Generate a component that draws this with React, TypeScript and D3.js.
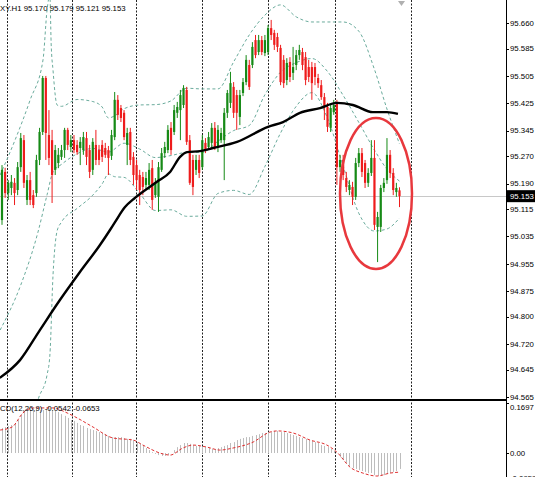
import React from 'react';
import * as d3 from 'd3';

const opens = [95.083,95.224,95.162,95.177,95.192,95.171,95.238,95.317,95.142,95.200,95.156,95.162,95.259,95.341,95.499,95.332,95.317,95.230,95.250,95.268,95.288,95.347,95.297,95.317,95.303,95.294,95.288,95.323,95.288,95.230,95.303,95.288,95.303,95.294,95.288,95.271,95.326,95.435,95.411,95.397,95.303,95.341,95.268,95.244,95.215,95.209,95.186,95.186,95.235,95.156,95.151,95.230,95.279,95.288,95.353,95.341,95.397,95.405,95.420,95.464,95.317,95.259,95.230,95.259,95.238,95.309,95.297,95.309,95.353,95.297,95.317,95.317,95.397,95.426,95.473,95.449,95.385,95.455,95.487,95.537,95.537,95.610,95.575,95.610,95.572,95.575,95.645,95.631,95.619,95.587,95.552,95.493,95.546,95.514,95.537,95.566,95.575,95.560,95.531,95.531,95.531,95.499,95.478,95.443,95.414,95.353,95.399,95.426,95.238,95.259,95.206,95.171,95.180,95.151,95.250,95.279,95.250,95.192,95.221,95.265,95.063,95.063,95.177,95.200,95.274,95.221,95.165,95.170];
const highs = [95.244,95.236,95.200,95.215,95.206,95.253,95.338,95.332,95.215,95.224,95.171,95.274,95.353,95.505,95.505,95.405,95.347,95.303,95.294,95.303,95.353,95.353,95.332,95.332,95.317,95.326,95.341,95.341,95.303,95.323,95.347,95.303,95.317,95.309,95.300,95.347,95.458,95.449,95.420,95.405,95.353,95.353,95.282,95.259,95.230,95.224,95.224,95.250,95.259,95.206,95.253,95.294,95.312,95.361,95.370,95.420,95.429,95.464,95.478,95.473,95.332,95.274,95.274,95.274,95.332,95.323,95.341,95.367,95.370,95.361,95.353,95.411,95.464,95.517,95.487,95.464,95.464,95.499,95.566,95.552,95.604,95.625,95.625,95.622,95.625,95.654,95.669,95.640,95.631,95.596,95.566,95.557,95.560,95.590,95.581,95.596,95.587,95.575,95.552,95.546,95.543,95.511,95.493,95.455,95.426,95.423,95.435,95.435,95.274,95.274,95.224,95.200,95.195,95.265,95.294,95.294,95.259,95.235,95.317,95.317,95.107,95.186,95.206,95.323,95.288,95.235,95.192,95.179];
const lows = [95.069,95.148,95.142,95.156,95.127,95.156,95.224,95.177,95.127,95.127,95.118,95.151,95.244,95.332,95.259,95.244,95.133,95.215,95.235,95.259,95.265,95.288,95.282,95.279,95.274,95.244,95.274,95.244,95.206,95.215,95.244,95.244,95.253,95.265,95.215,95.259,95.317,95.376,95.370,95.317,95.244,95.244,95.186,95.171,95.127,95.156,95.171,95.171,95.113,95.148,95.107,95.224,95.265,95.279,95.274,95.332,95.382,95.317,95.411,95.303,95.186,95.156,95.215,95.206,95.230,95.279,95.288,95.297,95.288,95.282,95.309,95.200,95.382,95.411,95.382,95.347,95.361,95.446,95.478,95.464,95.528,95.557,95.566,95.566,95.563,95.566,95.610,95.581,95.575,95.478,95.470,95.478,95.487,95.493,95.522,95.552,95.522,95.478,95.487,95.435,95.478,95.470,95.435,95.376,95.341,95.341,95.391,95.186,95.224,95.200,95.165,95.156,95.127,95.142,95.238,95.209,95.177,95.180,95.212,95.054,94.960,95.048,95.165,95.189,95.206,95.156,95.151,95.121];
const closes = [95.230,95.162,95.192,95.195,95.162,95.238,95.323,95.192,95.200,95.142,95.127,95.259,95.341,95.499,95.338,95.265,95.215,95.288,95.274,95.288,95.347,95.303,95.317,95.288,95.282,95.312,95.326,95.268,95.224,95.312,95.259,95.259,95.268,95.274,95.265,95.332,95.435,95.391,95.382,95.326,95.338,95.259,95.215,95.200,95.171,95.180,95.206,95.230,95.142,95.192,95.238,95.279,95.297,95.347,95.288,95.405,95.414,95.449,95.470,95.312,95.192,95.180,95.259,95.221,95.317,95.288,95.326,95.353,95.297,95.347,95.338,95.397,95.455,95.484,95.397,95.397,95.449,95.487,95.552,95.473,95.590,95.566,95.610,95.575,95.610,95.645,95.625,95.596,95.590,95.487,95.484,95.543,95.502,95.531,95.566,95.581,95.537,95.493,95.502,95.484,95.502,95.484,95.443,95.414,95.356,95.411,95.420,95.238,95.259,95.215,95.180,95.186,95.151,95.250,95.279,95.224,95.192,95.221,95.265,95.069,95.092,95.177,95.192,95.274,95.221,95.171,95.177,95.153];

const priceTicks = [95.660,95.585,95.505,95.425,95.345,95.270,95.190,95.115,95.035,94.955,94.875,94.800,94.720,94.645,94.565];
const macdTicks = [0.1697, 0.0, -0.0959];
const macdTickLabels = ['0.1697', '0.00', '-0.0959'];

const macdHist = [0.085,0.088,0.092,0.095,0.102,0.112,0.129,0.143,0.146,0.146,
0.149,0.149,0.146,0.146,0.150,0.150,0.146,0.143,0.139,0.132,
0.126,0.119,0.112,0.109,0.102,0.095,0.092,0.085,0.081,0.078,
0.075,0.071,0.068,0.064,0.058,0.054,0.054,0.054,0.054,0.051,
0.048,0.048,0.044,0.037,0.031,0.024,0.017,0.010,0.003,-0.003,
-0.007,-0.010,-0.010,-0.007,0.000,0.010,0.020,0.027,0.034,0.034,
0.031,0.027,0.024,0.024,0.020,0.020,0.017,0.014,0.014,0.017,
0.020,0.024,0.027,0.034,0.037,0.044,0.048,0.051,0.054,0.054,
0.058,0.061,0.064,0.068,0.068,0.071,0.071,0.075,0.075,0.071,
0.071,0.068,0.064,0.061,0.058,0.054,0.051,0.048,0.044,0.041,
0.037,0.034,0.027,0.024,0.020,0.014,0.007,0.000,-0.014,-0.024,
-0.034,-0.044,-0.051,-0.054,-0.058,-0.061,-0.064,-0.068,-0.068,-0.075,
-0.078,-0.078,-0.075,-0.071,-0.068,-0.064,-0.061,-0.054];

const signalPts: [number, number][] = [[-0.6,0.078],[3.2,0.088],[6.7,0.136],[9.9,0.153],[16.3,0.153],[20.8,0.136],[24,0.119],[29.1,0.088],[35.5,0.051],[41.9,0.044],[45,0.027],[51.4,-0.003],[53.7,-0.007],[57.8,0.017],[61,0.027],[65.5,0.020],[69.6,0.010],[73.8,0.017],[80.2,0.037],[85.6,0.071],[87.9,0.075],[93,0.068],[98.4,0.044],[103.8,0.027],[107,0.003],[111.2,-0.048],[115.3,-0.068],[119.8,-0.078],[124,-0.068],[126.8,-0.065]];

const maPts: [number, number][] = [[-0.7,94.621],[5.75,94.673],[12.1,94.761],[18.5,94.849],[24.9,94.931],[31.3,95.010],[34.5,95.054],[36.1,95.077],[39.3,95.121],[42.5,95.148],[49.5,95.195],[53.7,95.224],[56.9,95.268],[59.1,95.282],[63.3,95.285],[67.4,95.294],[75.1,95.312],[85,95.356],[89.8,95.370],[95.2,95.397],[101.6,95.411],[107,95.426],[112.1,95.420],[118.5,95.399],[123,95.399],[126.5,95.394]];

const bbUpper: [number, number][] = [[-0.6,95.215],[4.2,95.318],[9,95.435],[13.1,95.552],[14.4,95.698],[15.3,95.742],[15.7,95.601],[16.3,95.522],[17.6,95.420],[19,95.416],[24,95.436],[29,95.430],[32,95.414],[34,95.382],[36,95.388],[39,95.409],[44,95.420],[49,95.421],[54,95.432],[59,95.469],[64,95.467],[69,95.467],[74,95.546],[79,95.625],[84,95.683],[89,95.713],[94,95.678],[99,95.663],[104,95.663],[109,95.663],[114,95.636],[119,95.524],[123,95.408],[127,95.306]];
const bbMiddle: [number, number][] = [[-0.6,94.761],[6,94.893],[11.5,95.048],[14.4,95.157],[16.3,95.224],[19,95.246],[24,95.277],[29,95.293],[34,95.282],[39,95.308],[44,95.291],[49,95.266],[54,95.272],[59,95.281],[64,95.281],[69,95.314],[74,95.345],[79,95.360],[84,95.450],[89,95.516],[94,95.544],[99,95.556],[104,95.518],[109,95.448],[114,95.369],[119,95.288],[123,95.232],[127,95.197]];
const bbLower: [number, number][] = [[10,94.497],[11.5,94.556],[14.4,94.630],[15.3,94.688],[16.3,94.922],[17.6,95.051],[19,95.077],[24,95.117],[29,95.156],[32,95.189],[34,95.218],[36,95.210],[39,95.208],[44,95.161],[49,95.111],[54,95.113],[59,95.094],[64,95.095],[69,95.161],[74,95.170],[79,95.158],[84,95.240],[89,95.338],[94,95.416],[99,95.456],[104,95.381],[109,95.241],[114,95.103],[119,95.051],[123,95.057],[127,95.089]];

const gridIdx = [1.6, 22.4, 42.8, 63.9, 85, 106.4, 130.7];
const lastPrice = 95.153;
const titleText = 'XY.H1  95.170 95.179 95.121 95.153';
const macdTitle = 'CD(12,26,9) -0.0542 -0.0653';

const W = 535, H = 477;
const axisX = 506;
const FONT = 'Liberation Sans, Arial, sans-serif';

export default function App() {
  const x = d3.scaleLinear().domain([0, closes.length - 1]).range([2, 399.5]);
  const y = d3.scaleLinear().domain([94.565, 95.660]).range([397, 23]);
  const ym = d3.scaleLinear().domain([-0.0959, 0.1697]).range([481.3, 403]);

  const line = d3.line<[number, number]>().x(d => x(d[0])).y(d => y(d[1])).curve(d3.curveMonotoneX);
  const lineM = d3.line<[number, number]>().x(d => x(d[0])).y(d => ym(d[1])).curve(d3.curveMonotoneX);

  const green = '#168a16';
  const red = '#ee1c1c';
  const bandColor = '#6aab9c';

  return (
    <svg width={W} height={H} style={{ position: 'absolute', left: 0, top: 0, background: '#fff' }}>
      <defs>
        <clipPath id="mainClip"><rect x={0} y={0} width={axisX} height={399} /></clipPath>
        <clipPath id="macdClip"><rect x={0} y={402} width={axisX} height={H - 402} /></clipPath>
      </defs>
      <rect x={0} y={0} width={W} height={H} fill="#fff" />
      {gridIdx.map((g, i) => (
        <line key={'g' + i} x1={Math.round(x(g)) + 0.5} x2={Math.round(x(g)) + 0.5} y1={0} y2={H} stroke="#222" strokeWidth={1} strokeDasharray="2,1.5" />
      ))}
      <line x1={0} x2={axisX} y1={Math.round(y(lastPrice)) + 0.5} y2={Math.round(y(lastPrice)) + 0.5} stroke="#c8c8c8" strokeWidth={1} />
      <g clipPath="url(#mainClip)">
        {[bbUpper, bbMiddle, bbLower].map((b, i) => (
          <path key={'bb' + i} d={line(b) || ''} fill="none" stroke={bandColor} strokeWidth={1} strokeDasharray="3,2.5" />
        ))}
        {closes.map((c, i) => {
          const o = opens[i];
          const up = c >= o;
          const col = up ? green : red;
          const cx = x(i);
          const top = y(Math.max(o, c));
          const bot = y(Math.min(o, c));
          return (
            <g key={'c' + i}>
              <line x1={cx} x2={cx} y1={y(highs[i])} y2={y(lows[i])} stroke={col} strokeWidth={1} />
              <rect x={cx - 1.1} y={top} width={2.2} height={Math.max(1, bot - top)} fill={col} />
            </g>
          );
        })}
        <path d={line(maPts) || ''} fill="none" stroke="#000" strokeWidth={2.4} strokeLinejoin="round" />
      </g>
      <ellipse cx={376} cy={193.5} rx={36} ry={75.5} fill="none" stroke="#e8383d" strokeWidth={2.5} />
      <g clipPath="url(#macdClip)">
        {macdHist.map((v, i) => (
          <line key={'h' + i} x1={Math.round(x(i)) + 0.5} x2={Math.round(x(i)) + 0.5} y1={ym(0)} y2={ym(v)} stroke="#bdbdbd" strokeWidth={1} />
        ))}
        <path d={lineM(signalPts) || ''} fill="none" stroke="#e03030" strokeWidth={1} strokeDasharray="3,2" />
      </g>
      <line x1={0} x2={axisX} y1={400} y2={400} stroke="#000" strokeWidth={2} />
      <line x1={axisX + 0.5} x2={axisX + 0.5} y1={0} y2={H} stroke="#000" strokeWidth={1} />
      {priceTicks.map((t, i) => (
        <g key={'t' + i}>
          <line x1={axisX} x2={axisX + 3} y1={Math.round(y(t)) + 0.5} y2={Math.round(y(t)) + 0.5} stroke="#000" />
          <text x={axisX + 4} y={y(t)} dy="0.35em" fontSize={7.8} fontFamily={FONT} fill="#000">{t.toFixed(3)}</text>
        </g>
      ))}
      {macdTicks.map((t, i) => (
        <g key={'mt' + i}>
          <line x1={axisX} x2={axisX + 3} y1={Math.round(ym(t)) + 0.5} y2={Math.round(ym(t)) + 0.5} stroke="#000" />
          <text x={axisX + 4} y={i === 0 ? ym(t) + 4 : i === 2 ? ym(t) - 3 : ym(t)} dy="0.35em" fontSize={7.8} fontFamily={FONT} fill="#000">{macdTickLabels[i]}</text>
        </g>
      ))}
      <rect x={axisX} y={y(lastPrice) - 6} width={W - axisX} height={12} fill="#000" />
      <text x={axisX + 4} y={y(lastPrice)} dy="0.35em" fontSize={7.8} fontFamily={FONT} fill="#fff">{lastPrice.toFixed(3)}</text>
      <path d="M398,1 L405,1 L401.5,6 Z" fill="#b0b0b0" />
      <text x={0} y={11} fontSize={7.8} fontFamily={FONT} fill="#000">{titleText}</text>
      <text x={0} y={411} fontSize={7.8} fontFamily={FONT} fill="#000">{macdTitle}</text>
    </svg>
  );
}
